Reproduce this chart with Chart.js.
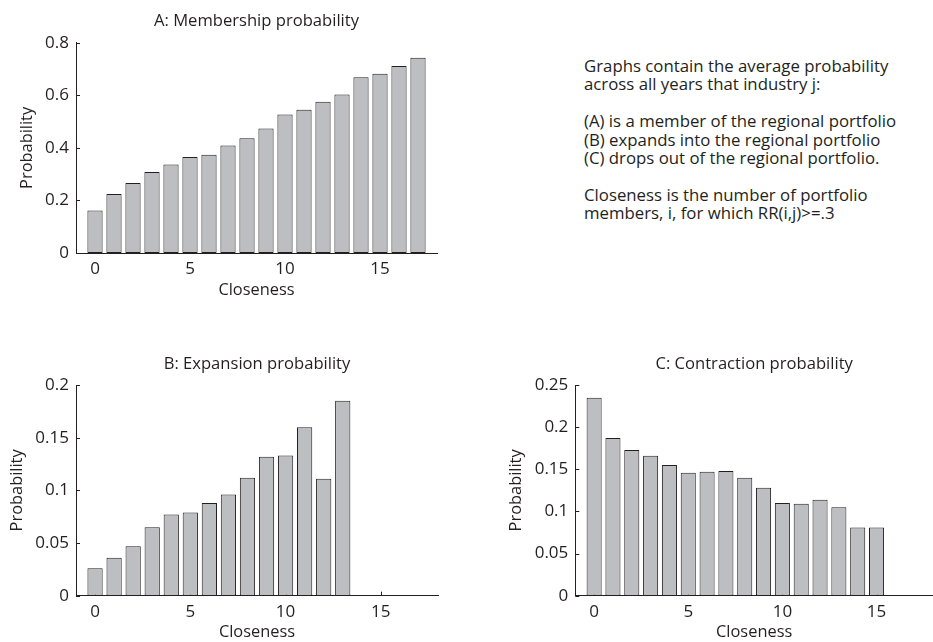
<!DOCTYPE html>
<html>
<head>
<meta charset="utf-8">
<script src="https://cdn.jsdelivr.net/npm/chart.js@4"></script>
<style>
  body { margin: 0; background: #fff; }
  #page { position: relative; width: 933px; height: 642px; overflow: hidden; }
  canvas { position: absolute; }
  #note {
    position: absolute; left: 584px; top: 57px;
    font: 16.8px "Open Sans", sans-serif; line-height: 18.4px; color: #231f20;
    white-space: pre;
  }
</style>
</head>
<body>
<div id="page">
  <canvas id="chartA" width="460" height="300" style="left:0;top:0"></canvas>
  <canvas id="chartB" width="460" height="322" style="left:0;top:320px"></canvas>
  <canvas id="chartC" width="463" height="322" style="left:470px;top:320px"></canvas>
  <div id="note">Graphs contain the average probability
across all years that industry j:

(A) is a member of the regional portfolio
(B) expands into the regional portfolio
(C) drops out of the regional portfolio.

Closeness is the number of portfolio
members, i, for which RR(i,j)&gt;=.3</div>
</div>
<script>
// Values
const closeness = [0, 1, 2, 3, 4, 5, 6, 7, 8, 9, 10, 11, 12, 13, 14, 15, 16, 17];
const membership = [0.162, 0.224, 0.266, 0.308, 0.337, 0.365, 0.374, 0.409, 0.437,
  0.474, 0.527, 0.545, 0.575, 0.603, 0.669, 0.682, 0.711, 0.743];
const expansion = [0.026, 0.036, 0.047, 0.065, 0.077, 0.079, 0.088, 0.096, 0.112,
  0.132, 0.133, 0.160, 0.111, 0.185, 0, 0, 0, 0];
const contraction = [0.235, 0.187, 0.173, 0.166, 0.155, 0.146, 0.147, 0.148, 0.140,
  0.128, 0.110, 0.109, 0.114, 0.105, 0.081, 0.081, 0, 0];
const xTicks = [0, 5, 10, 15];
const yTicksA = [0, 0.2, 0.4, 0.6, 0.8];
const yTicksB = [0, 0.05, 0.1, 0.15, 0.2];
const yTicksC = [0, 0.05, 0.1, 0.15, 0.2, 0.25];

const ink = '#231f20';
const family = '"Open Sans", sans-serif';
const tickFont = { family: family, size: 17 };
const labelFont = { family: family, size: 16.4 };
const titleFont = { family: family, size: 16.6, weight: 'normal' };

// matlab style ticks pointing into the plot
const inwardTicks = {
  id: 'inwardTicks',
  beforeDatasetsDraw(chart) {
    const { ctx, chartArea: a, scales: { x, y } } = chart;
    ctx.save();
    ctx.strokeStyle = ink;
    ctx.lineWidth = 1;
    ctx.beginPath();
    x.ticks.forEach(t => {
      const px = Math.round(x.getPixelForValue(t.value)) + 0.5;
      ctx.moveTo(px, a.bottom);
      ctx.lineTo(px, a.bottom - 4);
    });
    y.ticks.forEach(t => {
      const py = Math.round(y.getPixelForValue(t.value)) + 0.5;
      ctx.moveTo(a.left, py);
      ctx.lineTo(a.left + 4, py);
    });
    ctx.stroke();
    ctx.restore();
  }
};

function makeChart(canvasId, title, values, yTicks, box) {
  const ctx = document.getElementById(canvasId).getContext('2d');
  return new Chart(ctx, {
    type: 'bar',
    data: {
      datasets: [{
        data: closeness.map((c, i) => ({ x: c, y: values[i] })),
        backgroundColor: '#bdbec2',
        borderColor: ink,
        borderWidth: 1,
        borderSkipped: false,
        barPercentage: 1,
        categoryPercentage: 0.8
      }]
    },
    options: {
      responsive: false,
      animation: false,
      devicePixelRatio: 1,
      layout: { padding: { left: 0, right: box.padRight, top: 0, bottom: 0 } },
      plugins: {
        legend: { display: false },
        tooltip: { enabled: false },
        title: {
          display: true,
          text: title,
          fullSize: false,
          color: ink,
          font: titleFont,
          padding: box.titlePad
        }
      },
      scales: {
        x: {
          type: 'linear',
          min: -1,
          max: 18,
          offset: false,
          grid: { display: false, drawTicks: false },
          border: { display: true, color: ink, width: 1 },
          afterBuildTicks: s => { s.ticks = xTicks.map(v => ({ value: v })); },
          afterFit: s => { s.height = box.xHeight; },
          ticks: { color: ink, font: tickFont, padding: 6, maxRotation: 0 },
          title: { display: true, text: 'Closeness', color: ink, font: labelFont, padding: 0 }
        },
        y: {
          min: 0,
          max: yTicks[yTicks.length - 1],
          grid: { display: false, drawTicks: false },
          border: { display: true, color: ink, width: 1 },
          afterBuildTicks: s => { s.ticks = yTicks.map(v => ({ value: v })); },
          afterFit: s => { s.width = box.yWidth; },
          ticks: { color: ink, font: tickFont, padding: 7, callback: v => String(v) },
          title: { display: true, text: 'Probability', color: ink, font: labelFont, padding: { top: box.yTitleX, bottom: 0 } }
        }
      }
    },
    plugins: [inwardTicks]
  });
}

makeChart('chartA', 'A: Membership probability', membership, yTicksA,
  { yWidth: 76, xHeight: 47, padRight: 23, titlePad: { top: 11.4, bottom: 11.4 }, yTitleX: 17.4 });
makeChart('chartB', 'B: Expansion probability', expansion, yTicksB,
  { yWidth: 76, xHeight: 46.3, padRight: 22, titlePad: { top: 34.4, bottom: 10.7 }, yTitleX: 7.4 });
makeChart('chartC', 'C: Contraction probability', contraction, yTicksC,
  { yWidth: 105.3, xHeight: 46.3, padRight: 0, titlePad: { top: 34.4, bottom: 10.7 }, yTitleX: 36 });
</script>
</body>
</html>
